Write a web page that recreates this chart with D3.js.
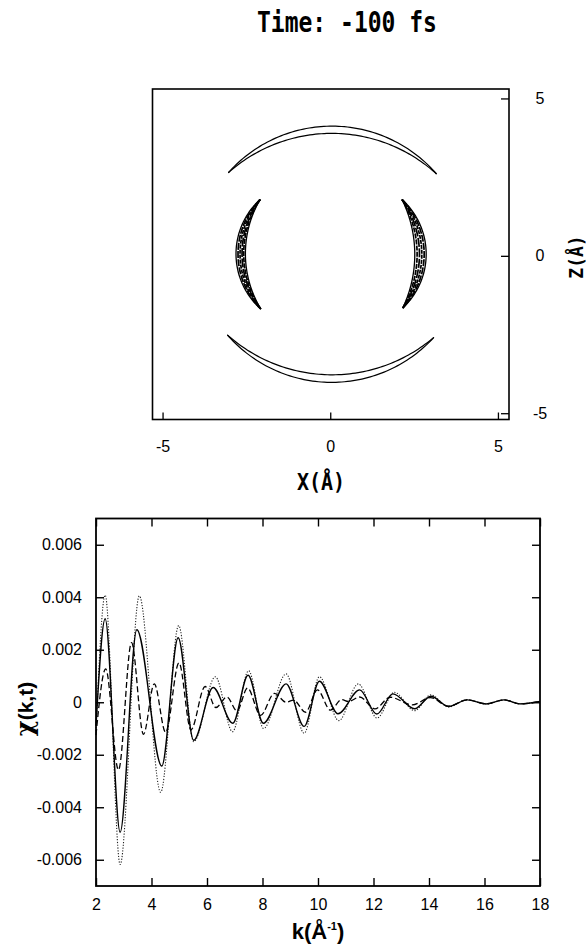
<!DOCTYPE html>
<html>
<head>
<meta charset="utf-8">
<script src="https://cdn.jsdelivr.net/npm/d3@7"></script>
<style>
  body { margin: 0; background: #fff; }
  svg { display: block; }
</style>
</head>
<body>
<script>
// ---------------- data ----------------
const titleText = "Time: -100 fs";

// Density contours in the X–Z plane (Å). Each contour is [tip, apex, tip].
const crescentTop = [
  [[-3.04, 2.64], [0.05, 4.12], [3.17, 2.60]],
  [[-3.04, 2.64], [0.05, 3.89], [3.17, 2.60]]
];
const crescentBottom = [
  [[-3.07, -2.51], [0.0, -4.02], [3.09, -2.59]],
  [[-3.07, -2.51], [0.0, -3.78], [3.09, -2.59]]
];
const crescentLeft = [
  [[-2.09, 1.79], [-2.81, 0.05], [-2.07, -1.69]],
  [[-2.09, 1.79], [-2.75, 0.05], [-2.07, -1.69]],
  [[-2.09, 1.79], [-2.69, 0.05], [-2.07, -1.69]],
  [[-2.09, 1.79], [-2.63, 0.05], [-2.07, -1.69]],
  [[-2.09, 1.79], [-2.58, 0.05], [-2.07, -1.69]],
  [[-2.09, 1.79], [-2.53, 0.05], [-2.07, -1.69]]
];
const crescentRight = [
  [[2.14, 1.79], [2.86, 0.0], [2.16, -1.66]],
  [[2.14, 1.79], [2.80, 0.0], [2.16, -1.66]],
  [[2.14, 1.79], [2.73, 0.0], [2.16, -1.66]],
  [[2.14, 1.79], [2.66, 0.0], [2.16, -1.66]],
  [[2.14, 1.79], [2.59, 0.0], [2.16, -1.66]],
  [[2.14, 1.79], [2.52, 0.0], [2.16, -1.66]]
];
const posTicks = [-5, 0, 5];
const posTickLabels = ["-5", "0", "5"];

// EXAFS signal chi(k,t): three curves (solid, dashed, dotted)
const kSolid   = [2.0, 2.33, 2.87, 3.47, 4.37, 4.96, 5.52, 6.22, 6.93, 7.48, 8.03, 8.85, 9.50, 10.05, 10.72, 11.50, 12.12, 12.70, 13.48, 14.07, 14.70, 15.38, 16.06, 16.70, 17.28, 18.0];
const chiSolid = [-0.0009, 0.00318, -0.00495, 0.00276, -0.00243, 0.00246, -0.00145, 0.00056, -0.0008, 0.00103, -0.0008, 0.0007, -0.00092, 0.0008, -0.00044, 0.00047, -0.00045, 0.00032, -0.00025, 0.00023, -0.00016, 0.00009, -0.00006, 0.00009, -0.00006, 0.00003];

const kDash   = [2.0, 2.35, 2.81, 3.28, 3.71, 4.10, 4.51, 4.99, 5.42, 5.93, 6.32, 6.72, 7.08, 7.46, 7.93, 8.43, 8.85, 9.12, 9.55, 9.98, 10.45, 10.85, 11.10, 11.50, 12.05, 12.60, 13.40, 14.05, 14.70, 15.38, 16.06, 16.70, 17.28, 18.0];
const chiDash = [-0.00125, 0.00127, -0.00258, 0.00227, -0.00122, 0.0007, -0.00115, 0.0015, -0.00105, 0.0006, -0.0002, 0.0002, -0.00033, 0.00054, -0.0005, 0.00034, 0.0, 0.00008, -0.00038, 0.00047, -0.0003, 0.0001, 0.00003, 0.0002, -0.00025, 0.00019, -0.0001, 0.00018, -0.00015, 0.00009, -0.00006, 0.00009, -0.00006, 0.00003];

const kDot   = [2.0, 2.33, 2.87, 3.56, 4.33, 4.98, 5.52, 6.30, 6.92, 7.50, 8.04, 8.85, 9.50, 10.05, 10.75, 11.45, 12.13, 12.75, 13.48, 14.07, 14.70, 15.38, 16.06, 16.70, 17.28, 18.0];
const chiDot = [-0.0011, 0.00408, -0.00618, 0.00405, -0.00343, 0.00292, -0.0015, 0.00097, -0.00112, 0.0012, -0.001, 0.00108, -0.00118, 0.00097, -0.0007, 0.0007, -0.0006, 0.00038, -0.00032, 0.00028, -0.00018, 0.0001, -0.00007, 0.00009, -0.00006, 0.00003];

const kTicks = [2, 4, 6, 8, 10, 12, 14, 16, 18];
const kTickLabels = ["2", "4", "6", "8", "10", "12", "14", "16", "18"];
const chiTicks = [-0.006, -0.004, -0.002, 0, 0.002, 0.004, 0.006];
const chiTickLabels = ["-0.006", "-0.004", "-0.002", "0", "0.002", "0.004", "0.006"];

// ---------------- drawing ----------------
const W = 586, H = 947;
const svg = d3.select("body").append("svg").attr("width", W).attr("height", H);
const tickFont = "'Liberation Sans', Arial, sans-serif";
const blockFont = "'DejaVu Sans Mono', monospace";

// title
svg.append("text")
  .attr("transform", "translate(257,31.5) scale(1,1.2)")
  .attr("font-family", blockFont).attr("font-weight", "bold").attr("font-size", 23)
  .attr("fill", "#000").text(titleText);

// ---- upper panel: real-space density ----
const px0 = 152.5, px1 = 509, py0 = 89, py1 = 419.5;
const xPos = d3.scaleLinear().domain([-5.3, 5.33]).range([px0, px1]);
const zPos = d3.scaleLinear().domain([-5.2, 5.3]).range([py1, py0]);

// points on the circle through tip, apex and tip (in screen space)
function arcThrough(p0, p1, p2, n) {
  const [ax, ay] = p0, [bx, by] = p1, [cx, cy] = p2;
  const d = 2 * (ax * (by - cy) + bx * (cy - ay) + cx * (ay - by));
  const ux = ((ax*ax + ay*ay) * (by - cy) + (bx*bx + by*by) * (cy - ay) + (cx*cx + cy*cy) * (ay - by)) / d;
  const uy = ((ax*ax + ay*ay) * (cx - bx) + (bx*bx + by*by) * (ax - cx) + (cx*cx + cy*cy) * (bx - ax)) / d;
  const r = Math.hypot(ax - ux, ay - uy);
  const a0 = Math.atan2(ay - uy, ax - ux);
  const a1 = Math.atan2(by - uy, bx - ux);
  const a2 = Math.atan2(cy - uy, cx - ux);
  const tau = 2 * Math.PI;
  const m = v => ((v % tau) + tau) % tau;
  const t1 = m(a1 - a0), t2 = m(a2 - a0);
  const span = t1 < t2 ? t2 : t2 - tau;
  return d3.range(n + 1).map(i => {
    const a = a0 + span * i / n;
    return [ux + r * Math.cos(a), uy + r * Math.sin(a)];
  });
}

const upperPanel = svg.append("g");
const arcLine = d3.line();
function drawContours(set, styleFn) {
  set.forEach((c, i) => {
    const pts = c.map(p => [xPos(p[0]), zPos(p[1])]);
    const path = upperPanel.append("path")
      .attr("d", arcLine(arcThrough(pts[0], pts[1], pts[2], 80)))
      .attr("fill", "none").attr("stroke", "#000")
      .attr("stroke-linejoin", "round");
    styleFn(path, i, set.length);
  });
}
const plain = p => p.attr("stroke-width", 1.2);
// the side lobes are crowded with nested contour levels
const layered = (p, i, n) => {
  const inner = i > 0 && i < n - 1;
  p.attr("stroke-width", inner ? 1.7 : 1.3);
  if (inner) p.attr("stroke-dasharray", ["7,1.2", "4,1", "9,1.5", "5,1.1"][(i - 1) % 4]);
};
drawContours(crescentTop, plain);
drawContours(crescentBottom, plain);
drawContours(crescentLeft, layered);
drawContours(crescentRight, layered);

upperPanel.append("rect").attr("x", px0).attr("y", py0)
  .attr("width", px1 - px0).attr("height", py1 - py0)
  .attr("fill", "none").attr("stroke", "#000").attr("stroke-width", 1.6);

const upperXAxis = upperPanel.append("g").attr("transform", `translate(0,${py1})`)
  .call(d3.axisBottom(xPos).tickValues(posTicks).tickSize(-7).tickPadding(21)
    .tickFormat((d, i) => posTickLabels[i]));
const upperZAxis = upperPanel.append("g").attr("transform", `translate(${px1},0)`)
  .call(d3.axisRight(zPos).tickValues(posTicks).tickSize(-8).tickPadding(31)
    .tickFormat((d, i) => posTickLabels[i]));
[upperXAxis, upperZAxis].forEach(g => {
  g.select(".domain").remove();
  g.selectAll("line").attr("stroke", "#000").attr("stroke-width", 1.3);
  g.selectAll("text").attr("font-family", tickFont).attr("font-size", 16).attr("fill", "#000");
});
upperZAxis.selectAll("text").attr("text-anchor", "middle");

svg.append("text")
  .attr("transform", "translate(321,490) scale(1,1.15)")
  .attr("text-anchor", "middle")
  .attr("font-family", blockFont).attr("font-weight", "bold").attr("font-size", 20)
  .text("X(Å)");
svg.append("text")
  .attr("transform", "translate(583,257) rotate(-90) scale(1,1.1)")
  .attr("text-anchor", "middle")
  .attr("font-family", blockFont).attr("font-weight", "bold").attr("font-size", 18)
  .text("Z(Å)");

// ---- lower panel: chi(k,t) ----
const bx0 = 96, bx1 = 540, by0 = 518.5, by1 = 886;
const kScale = d3.scaleLinear().domain([2, 18]).range([bx0, bx1]);
const chiScale = d3.scaleLinear().domain([-0.007, 0.007]).range([by1, by0]);
const lowerPanel = svg.append("g");

const chiLine = d3.line()
  .x(d => kScale(d[0])).y(d => chiScale(d[1]))
  .curve(d3.curveMonotoneX);
const series = [
  { k: kDot, v: chiDot, width: 1.1, dash: "1.2,1.6", color: "#222" },
  { k: kDash, v: chiDash, width: 1.3, dash: "6,3", color: "#000" },
  { k: kSolid, v: chiSolid, width: 1.4, dash: null, color: "#000" }
];
series.forEach(s => {
  lowerPanel.append("path")
    .datum(d3.zip(s.k, s.v))
    .attr("d", chiLine)
    .attr("fill", "none").attr("stroke", s.color)
    .attr("stroke-width", s.width)
    .attr("stroke-dasharray", s.dash);
});

lowerPanel.append("rect").attr("x", bx0).attr("y", by0)
  .attr("width", bx1 - bx0).attr("height", by1 - by0)
  .attr("fill", "none").attr("stroke", "#000").attr("stroke-width", 1.8);

const axes = [
  lowerPanel.append("g").attr("transform", `translate(0,${by1})`)
    .call(d3.axisBottom(kScale).tickValues(kTicks).tickSize(-8).tickPadding(13)
      .tickFormat((d, i) => kTickLabels[i])),
  lowerPanel.append("g").attr("transform", `translate(0,${by0})`)
    .call(d3.axisTop(kScale).tickValues(kTicks).tickSize(-8).tickFormat("")),
  lowerPanel.append("g").attr("transform", `translate(${bx0},0)`)
    .call(d3.axisLeft(chiScale).tickValues(chiTicks).tickSize(-8).tickPadding(14)
      .tickFormat((d, i) => chiTickLabels[i])),
  lowerPanel.append("g").attr("transform", `translate(${bx1},0)`)
    .call(d3.axisRight(chiScale).tickValues(chiTicks).tickSize(-8).tickFormat(""))
];
axes.forEach(g => {
  g.select(".domain").remove();
  g.selectAll("line").attr("stroke", "#000").attr("stroke-width", 1.4);
  g.selectAll("text").attr("font-family", tickFont).attr("font-size", 16).attr("fill", "#000");
});

// axis titles
const kLabel = svg.append("text")
  .attr("x", 318).attr("y", 939).attr("text-anchor", "middle")
  .attr("font-family", tickFont).attr("font-weight", "bold").attr("font-size", 22);
kLabel.append("tspan").text("k(Å");
kLabel.append("tspan").attr("font-size", 11).attr("dy", -9).text("-1");
kLabel.append("tspan").attr("dy", 9).text(")");

const chiLabel = svg.append("text")
  .attr("transform", "translate(33,709) rotate(-90)")
  .attr("text-anchor", "middle")
  .attr("font-weight", "bold").attr("font-size", 21);
chiLabel.append("tspan").attr("font-family", "'DejaVu Serif', 'Liberation Serif', serif").attr("font-size", 24).text("χ");
chiLabel.append("tspan").attr("font-family", tickFont).text("(k,t)");
</script>
</body>
</html>
